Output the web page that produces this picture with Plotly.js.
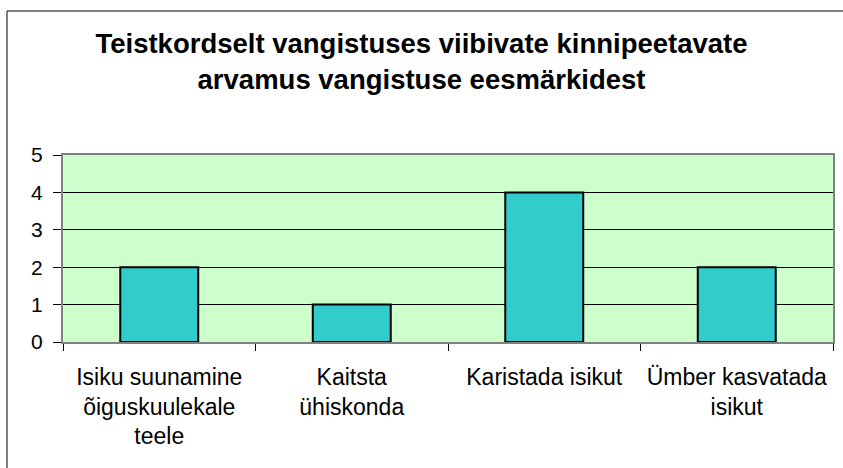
<!DOCTYPE html>
<html>
<head>
<meta charset="utf-8">
<script src="https://cdn.plot.ly/plotly-3.0.1.min.js"></script>
<style>html,body{margin:0;padding:0;background:#fff;}#chart{width:843px;height:468px;}</style>
</head>
<body>
<div id="chart"></div>
<script>
const categories = [
  "Isiku suunamine<br>õiguskuulekale<br>teele",
  "Kaitsta<br>ühiskonda",
  "Karistada isikut",
  "Ümber kasvatada<br>isikut"
];
const values = [2, 1, 4, 2];
const yTicks = [0, 1, 2, 3, 4, 5];
const chartTitle = "Teistkordselt vangistuses viibivate kinnipeetavate<br>arvamus vangistuse eesmärkidest";

const W = 843, H = 468, mL = 63, mR = 10, mT = 155, mB = 126;
const pw = W - mL - mR, ph = H - mT - mB;
const px = v => (v - mL) / pw;
const py = v => (H - mB - v) / ph;

const trace = {
  type: 'bar',
  x: categories,
  y: values,
  marker: {color: '#33CCCC', line: {color: '#000000', width: 2}},
  hoverinfo: 'none'
};

const layout = {
  width: W, height: H,
  margin: {l: mL, r: mR, t: mT, b: mB, pad: 0},
  paper_bgcolor: '#FFFFFF',
  plot_bgcolor: '#CCFFCC',
  bargap: 0.595,
  showlegend: false,
  font: {family: 'Liberation Sans, Arial, sans-serif', color: '#000', size: 20},
  title: {
    text: '<b>' + chartTitle + '</b>',
    font: {family: 'Liberation Sans, Arial, sans-serif', size: 27.5, color: '#000'},
    x: 0.5, xref: 'container', xanchor: 'center',
    y: 1 - 53 / H, yref: 'container', yanchor: 'top'
  },
  xaxis: {
    type: 'category',
    tickson: 'boundaries',
    ticks: 'outside', ticklen: 7, tickcolor: '#000', tickwidth: 1,
    showline: true, linecolor: '#808080', linewidth: 2, mirror: true,
    showgrid: false, zeroline: false,
    tickfont: {size: 23, color: '#000'},
    ticklabelstandoff: 13,
    fixedrange: true
  },
  yaxis: {
    range: [0, 5],
    tickvals: yTicks,
    ticktext: yTicks.map(String),
    ticks: 'outside', ticklen: 8, tickcolor: '#000', tickwidth: 1,
    showline: true, linecolor: '#808080', linewidth: 2, mirror: true,
    showgrid: true, gridcolor: '#000', gridwidth: 1,
    zeroline: false,
    tickfont: {size: 21, color: '#000'},
    ticklabelstandoff: 6,
    fixedrange: true
  },
  shapes: [{
    type: 'path', xref: 'paper', yref: 'paper', layer: 'above',
    path: `M ${px(7)} ${py(480)} L ${px(7)} ${py(11)} L ${px(860)} ${py(11)}`,
    line: {color: '#000', width: 1}
  }]
};

Plotly.newPlot('chart', [trace], layout, {displayModeBar: false, staticPlot: true});
</script>
</body>
</html>
